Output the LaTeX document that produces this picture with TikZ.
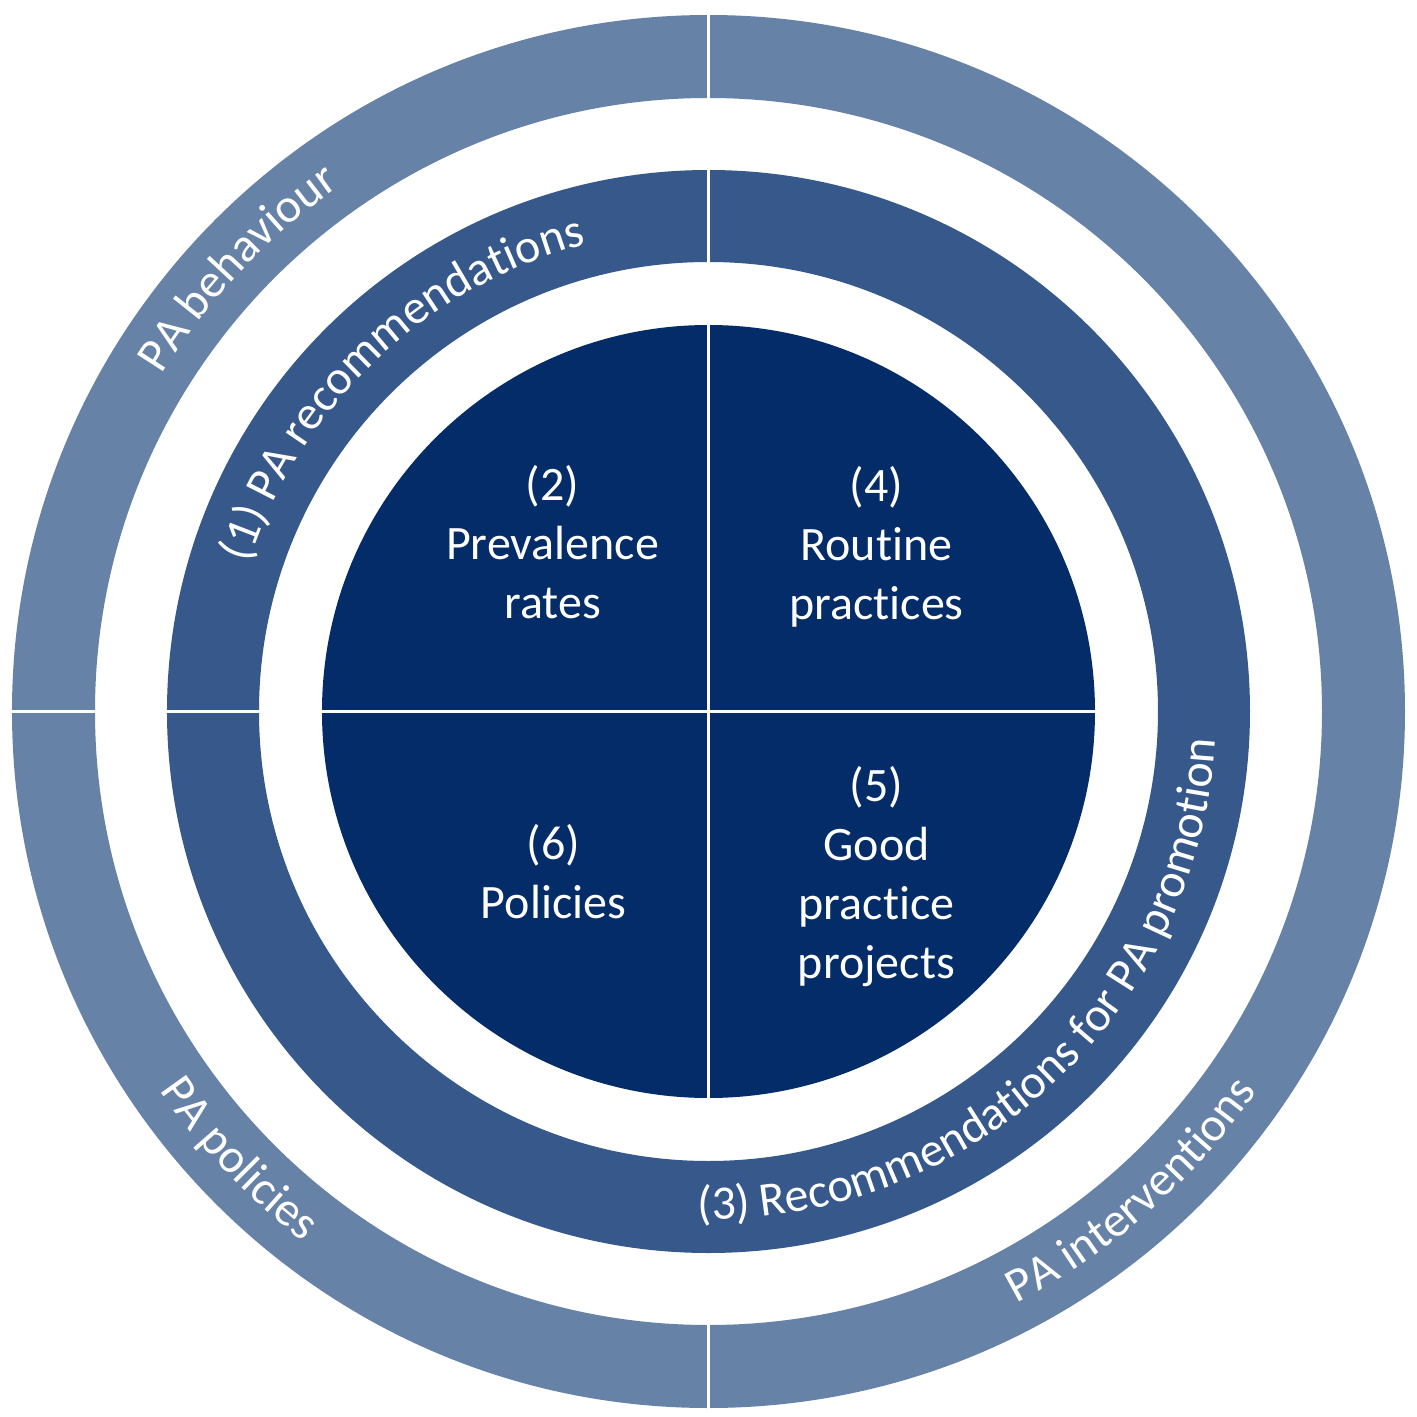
\documentclass[tikz,border=0pt]{standalone}
\usepackage{fontspec}
\setmainfont[Ligatures=NoCommon]{Carlito}
\usetikzlibrary{decorations.text}
\definecolor{ringout}{RGB}{103,130,167}
\definecolor{ringmid}{RGB}{54,88,138}
\definecolor{core}{RGB}{3,44,104}
\begin{document}
\begin{tikzpicture}[x=1pt,y=1pt,
  inlabel/.style={text=white, align=center, font=\fontsize{48pt}{59pt}\selectfont, inner sep=0pt},
  arctext/.style={decorate, decoration={text along path, text align=center, text color=white, text={|\fontsize{48pt}{58pt}\selectfont|#1}}},
  divider/.style={draw=white, line width=3pt}
]
\useasboundingbox (-708.5,-705.5) rectangle (708.5,711.5);
\fill[white] (-708.5,-705.5) rectangle (708.5,711.5);
% rings
\fill[ringout, even odd rule] (0,0) circle[radius=696.5pt] (0,0) circle[radius=613.5pt];
\fill[ringmid, even odd rule] (0,0) circle[radius=541.5pt] (0,0) circle[radius=449.5pt];
\fill[core] (0,0) circle[radius=386.5pt];
% dividers
\coordinate (c) at (0,0);
\path[divider] (c) -- (0,700);
\path[divider] (c) -- (-700,0);
\path[divider] (c) -- (0,-390);
\path[divider] (0,-610) -- (0,-700);
\path[divider] (c) -- (390,0);
% curved ring labels
\path[arctext={PA behaviour}] (176.7:642pt) arc[start angle=176.7, end angle=96.7, radius=642pt];
\path[arctext={(1) PA recommendations}] (178.4:483pt) arc[start angle=178.4, end angle=88.4, radius=483pt];
\path[arctext={(3) Recommendations for PA promotion}] (-107.2:508pt) arc[start angle=-107.2, end angle=12.8, radius=508pt];
\path[arctext={PA interventions}] (-88.6:667pt) arc[start angle=-88.6, end angle=-8.6, radius=667pt];
\path[arctext={PA policies}] (183.6:667pt) arc[start angle=183.6, end angle=263.6, radius=667pt];
% inner labels
\node[inlabel] (prev) at (-156,169.7) {(2)\\Prevalence\\rates};
\node[inlabel] (rout) at (168,164.8) {(4)\\Routine\\practices};
\node[inlabel] (pol) at (-155,-159.8) {(6)\\Policies};
\node[inlabel] (good) at (168,-164.8) {(5)\\Good\\practice\\projects};
\end{tikzpicture}
\end{document}
